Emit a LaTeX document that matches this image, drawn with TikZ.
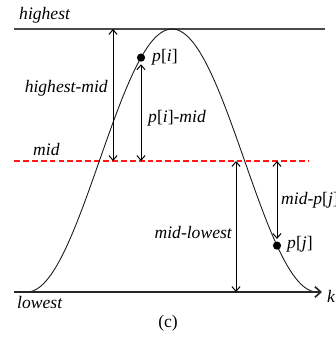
\documentclass[tikz,border=0pt]{standalone}
\usepackage{fontspec}
\setmainfont{Liberation Serif}
\usepackage{tikz}
\usetikzlibrary{arrows.meta}
\definecolor{midred}{HTML}{FF1A1A}
\definecolor{levelgray}{HTML}{4A4A4A}

\begin{document}
\begin{tikzpicture}[
  x=0.03cm, y=-0.03cm,
  every node/.style={font=\fontsize{15}{17}\selectfont\itshape, inner sep=0pt},
  lbl/.style={anchor=base west},
  lblr/.style={anchor=base east},
  level/.style={draw=levelgray, line width=1pt},
  axis/.style={draw=black!85, line width=1.7pt, -{Straight Barb[length=5pt,width=9pt,line width=1.4pt]}},
  midline/.style={draw=midred, line width=1.3pt, dash pattern=on 5pt off 2.6pt},
  curve/.style={draw=black!90, line width=0.75pt},
  gap/.style={<->, >={Straight Barb[length=4pt,width=7pt]}, line width=0.85pt},
  dot/.style={circle, fill=black, minimum size=7pt, inner sep=0pt}
]
\useasboundingbox (0,0) rectangle (335,349);

% Levels
\coordinate (top-l) at (14,29);
\coordinate (top-r) at (325,29);
\coordinate (mid-l) at (14,161);
\coordinate (mid-r) at (309,161);
\coordinate (low-l) at (14,292);
\coordinate (low-r) at (322,292);
\draw[level] (top-l) -- (top-r);
\draw[midline] (mid-l) -- (mid-r);

% Curve
\draw[curve] plot[domain=27:317, samples=90, smooth]
  (\x, {292-131.5*(1+cos((\x-172)*1.24138))});
\draw[axis] (low-l) -- (low-r);

% Points
\node[dot] (pi) at (141,57.6) {};
\node[dot] (pj) at (277,245.6) {};

% Labels
\node[lbl] (highest) at (19,20) {highest};
\node[lbl] (mid) at (33,156) {mid};
\node[lbl] (lowest) at (17,308) {lowest};
\node[lbl] (k) at (327,302) {k};
\node[lblr] (hmid) at (108,93) {highest-mid};
\node[lbl] (pilbl) at (152,62) {p\textup{[}i\textup{]}};
\node[lbl] (pimid) at (148,123) {p\textup{[}i\textup{]}-mid};
\node[lblr] (midlow) at (232,238) {mid-lowest};
\node[lbl] (midpj) at (281,205) {mid-p\textup{[}j\textup{]}};
\node[lbl] (pjlbl) at (287,248) {p\textup{[}j\textup{]}};
\node[font=\fontsize{15}{17}\selectfont\upshape] (cap) at (168,323) {(c)};

% Gaps
\coordinate (hm-a) at (113,29);
\coordinate (hm-b) at (113,161);
\coordinate (pm-b) at (141,161);
\coordinate (ml-a) at (236,161);
\coordinate (ml-b) at (236,292);
\coordinate (mp-a) at (277,161);
\draw[gap] (hm-a) -- (hm-b);
\draw[gap] ([yshift=-2pt]pi.south) -- (pm-b);
\draw[gap] (ml-a) -- (ml-b);
\draw[gap] (mp-a) -- ([yshift=2pt]pj.north);

\end{tikzpicture}
\end{document}
